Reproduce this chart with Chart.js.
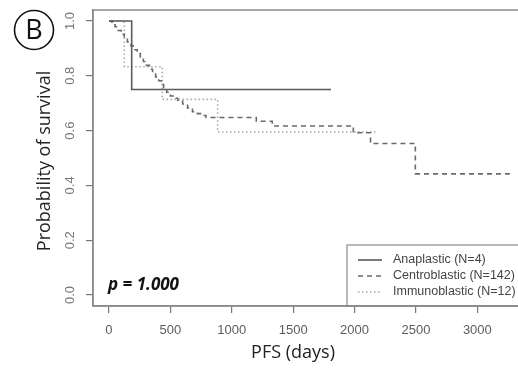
<!DOCTYPE html>
<html>
<head>
<meta charset="utf-8">
<script src="https://cdn.jsdelivr.net/npm/chart.js@4"></script>
<style>
  html, body { margin: 0; padding: 0; background: #fff; overflow: hidden; }
  #wrap { width: 518px; height: 370px; overflow: hidden; }
</style>
</head>
<body>
<div id="wrap"><canvas id="km" width="530" height="370"></canvas></div>
<script>
// Kaplan-Meier curves (days, survival)
const anaDays = [0, 185, 1808];
const anaSurv = [1.0, 0.75, 0.75];

const centroDays = [0, 25, 50, 75, 100, 125, 150, 180, 205, 230, 255, 280, 305, 330, 355, 380, 405,
    425, 445, 470, 500, 530, 560, 600, 640, 680, 720, 760, 790, 1200, 1330, 1990, 2130, 2495, 3265];
const centroSurv = [1.0, 0.986, 0.979, 0.965, 0.951, 0.937, 0.923, 0.909, 0.895, 0.881, 0.866, 0.852,
    0.838, 0.824, 0.810, 0.796, 0.782, 0.768, 0.754, 0.740, 0.726, 0.718, 0.711, 0.697, 0.683, 0.669,
    0.662, 0.655, 0.648, 0.634, 0.617, 0.592, 0.553, 0.442, 0.442];

const immunoDays = [0, 125, 434, 885, 2180];
const immunoSurv = [1.0, 0.833, 0.714, 0.595, 0.595];

const seriesLabels = ['Anaplastic (N=4)', 'Centroblastic (N=142)', 'Immunoblastic (N=12)'];
const xTicks = [0, 500, 1000, 1500, 2000, 2500, 3000];
const yTicks = [0, 0.2, 0.4, 0.6, 0.8, 1.0];
const yTickLabels = ['0.0', '0.2', '0.4', '0.6', '0.8', '1.0'];

function toPoints(days, surv) {
    return days.map((d, i) => ({ x: d, y: surv[i] }));
}

// draws the box, tick labels, titles, legend and annotations
const decorPlugin = {
    id: 'decor',
    afterDraw(chart) {
        const ctx = chart.ctx;
        const area = chart.chartArea;
        const xs = chart.scales.x;
        const ys = chart.scales.y;
        ctx.save();

        // box top / right
        ctx.strokeStyle = '#8a8a8a';
        ctx.lineWidth = 1.5;
        ctx.strokeRect(area.left, area.top, area.right - area.left, area.bottom - area.top);

        // x tick labels
        ctx.fillStyle = '#5c5c5c';
        ctx.font = '13px "Liberation Sans", Arial, sans-serif';
        ctx.textAlign = 'center';
        ctx.textBaseline = 'middle';
        xTicks.forEach(v => {
            ctx.fillText(String(v), xs.getPixelForValue(v), 330);
        });

        // y tick labels (rotated)
        ctx.fillStyle = '#777';
        yTicks.forEach((v, i) => {
            ctx.save();
            ctx.translate(70, ys.getPixelForValue(v));
            ctx.rotate(-Math.PI / 2);
            ctx.fillText(yTickLabels[i], 0, 0);
            ctx.restore();
        });

        // axis titles
        ctx.fillStyle = '#222';
        ctx.font = '18px "Open Sans", sans-serif';
        ctx.fillText('PFS (days)', 293, 353);
        ctx.save();
        ctx.translate(45, 161);
        ctx.rotate(-Math.PI / 2);
        ctx.fillText('Probability of survival', 0, 0);
        ctx.restore();

        // panel letter
        ctx.strokeStyle = '#111';
        ctx.lineWidth = 1.6;
        ctx.beginPath();
        ctx.arc(34, 30, 19.5, 0, Math.PI * 2);
        ctx.stroke();
        ctx.fillStyle = '#111';
        ctx.font = '27px "Open Sans", sans-serif';
        ctx.fillText('B', 34, 31);

        // p value
        ctx.font = 'bold italic 17px "Open Sans", sans-serif';
        ctx.textAlign = 'left';
        ctx.fillText('p = 1.000', 108, 285);

        // legend
        ctx.strokeStyle = '#8a8a8a';
        ctx.lineWidth = 1.2;
        ctx.strokeRect(347, 245, 200, area.bottom - 245);
        ctx.font = '12.5px "Liberation Sans", Arial, sans-serif';
        ctx.textBaseline = 'middle';
        const rowY = [260, 276, 292];
        chart.data.datasets.forEach((ds, i) => {
            ctx.strokeStyle = ds.borderColor;
            ctx.lineWidth = ds.borderWidth;
            ctx.setLineDash(ds.borderDash || []);
            ctx.beginPath();
            ctx.moveTo(358, rowY[i]);
            ctx.lineTo(382, rowY[i]);
            ctx.stroke();
            ctx.setLineDash([]);
            ctx.fillStyle = '#444';
            ctx.fillText(ds.label, 393, rowY[i]);
        });

        ctx.restore();
    }
};

new Chart(document.getElementById('km').getContext('2d'), {
    type: 'line',
    data: {
        datasets: [
            {
                label: seriesLabels[0],
                data: toPoints(anaDays, anaSurv),
                borderColor: '#5a5a5a',
                borderWidth: 1.6,
                stepped: 'before',
                pointRadius: 0
            },
            {
                label: seriesLabels[1],
                data: toPoints(centroDays, centroSurv),
                borderColor: '#6a6a6a',
                borderWidth: 1.6,
                borderDash: [5, 4],
                stepped: 'before',
                pointRadius: 0
            },
            {
                label: seriesLabels[2],
                data: toPoints(immunoDays, immunoSurv),
                borderColor: '#a8a8a8',
                borderWidth: 1.6,
                borderDash: [1.5, 2.5],
                stepped: 'before',
                pointRadius: 0
            }
        ]
    },
    options: {
        responsive: false,
        animation: false,
        layout: { padding: { left: 0, right: 6, top: 10, bottom: 0 } },
        plugins: { legend: { display: false }, tooltip: { enabled: false } },
        scales: {
            x: {
                type: 'linear',
                min: -130,
                max: 3380,
                afterBuildTicks: s => { s.ticks = xTicks.map(v => ({ value: v })); },
                afterFit: s => { s.height = 64; },
                ticks: { display: false },
                grid: { drawOnChartArea: false, drawTicks: true, tickLength: 7, color: '#777', lineWidth: 1.2 },
                border: { display: true, color: '#8a8a8a', width: 1.5 }
            },
            y: {
                type: 'linear',
                min: -0.04,
                max: 1.04,
                afterBuildTicks: s => { s.ticks = yTicks.map(v => ({ value: v })); },
                afterFit: s => { s.width = 93; },
                ticks: { display: false },
                grid: { drawOnChartArea: false, drawTicks: true, tickLength: 7, color: '#777', lineWidth: 1.2 },
                border: { display: true, color: '#8a8a8a', width: 1.5 }
            }
        }
    },
    plugins: [decorPlugin]
});
</script>
</body>
</html>
